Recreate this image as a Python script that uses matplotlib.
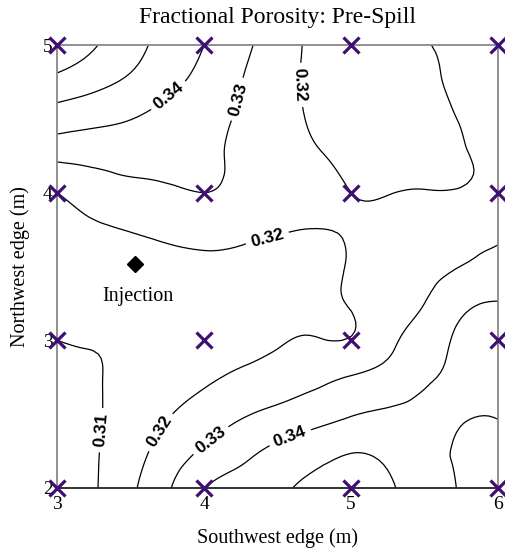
import numpy as np
import matplotlib
matplotlib.use("Agg")
import matplotlib.pyplot as plt
import matplotlib.tri as mtri

# Porosity mesh (0.25 m spacing) across the test cell
x_coords = [3.0, 3.25, 3.5, 3.75, 4.0, 4.25, 4.5, 4.75, 5.0, 5.25, 5.5, 5.75, 6.0]
y_coords = [2.0, 2.25, 2.5, 2.75, 3.0, 3.25, 3.5, 3.75, 4.0, 4.25, 4.5, 4.75, 5.0]
# rows follow y_coords (bottom to top), columns follow x_coords
porosity = [
    [0.2995, 0.3089, 0.3183, 0.3286, 0.3400, 0.3440, 0.3481, 0.3525, 0.3545, 0.3515, 0.3465, 0.3510, 0.3580],
    [0.3025, 0.3089, 0.3162, 0.3239, 0.3313, 0.3370, 0.3422, 0.3460, 0.3495, 0.3480, 0.3475, 0.3512, 0.3536],
    [0.3050, 0.3089, 0.3139, 0.3193, 0.3241, 0.3288, 0.3326, 0.3360, 0.3394, 0.3413, 0.3435, 0.3486, 0.3495],
    [0.3075, 0.3094, 0.3122, 0.3153, 0.3185, 0.3214, 0.3240, 0.3272, 0.3305, 0.3337, 0.3386, 0.3427, 0.3465],
    [0.3100, 0.3105, 0.3113, 0.3136, 0.3155, 0.3173, 0.3191, 0.3205, 0.3205, 0.3274, 0.3350, 0.3415, 0.3434],
    [0.3125, 0.3130, 0.3138, 0.3148, 0.3155, 0.3160, 0.3165, 0.3178, 0.3206, 0.3254, 0.3300, 0.3376, 0.3404],
    [0.3150, 0.3155, 0.3160, 0.3170, 0.3180, 0.3180, 0.3175, 0.3177, 0.3206, 0.3238, 0.3269, 0.3301, 0.3336],
    [0.3175, 0.3189, 0.3204, 0.3223, 0.3236, 0.3222, 0.3207, 0.3199, 0.3205, 0.3219, 0.3235, 0.3258, 0.3278],
    [0.3200, 0.3243, 0.3269, 0.3284, 0.3300, 0.3275, 0.3250, 0.3225, 0.3200, 0.3198, 0.3203, 0.3205, 0.3232],
    [0.3324, 0.3330, 0.3338, 0.3337, 0.3320, 0.3281, 0.3245, 0.3210, 0.3180, 0.3170, 0.3175, 0.3195, 0.3212],
    [0.3448, 0.3425, 0.3402, 0.3367, 0.3330, 0.3290, 0.3241, 0.3188, 0.3160, 0.3158, 0.3170, 0.3204, 0.3220],
    [0.3570, 0.3529, 0.3483, 0.3427, 0.3367, 0.3302, 0.3240, 0.3178, 0.3152, 0.3155, 0.3178, 0.3220, 0.3228],
    [0.3690, 0.3609, 0.3535, 0.3466, 0.3400, 0.3325, 0.3250, 0.3180, 0.3155, 0.3160, 0.3195, 0.3215, 0.3235],
]
levels = [0.31, 0.32, 0.33, 0.34, 0.35, 0.36]

# Sample wells (integer grid positions)
well_x = [3, 4, 5, 6]
well_y = [2, 3, 4, 5]

injection_xy = (3.53, 3.52)

# Contour label anchor points
label_points = [
    (3.78, 4.63), (4.24, 4.63), (4.67, 4.73), (4.44, 3.65),
    (3.31, 2.39), (3.70, 2.38), (4.04, 2.33), (4.59, 2.33),
]

serif = ["Liberation Serif", "DejaVu Serif"]

fig = plt.figure(figsize=(5.05, 5.52), dpi=100)
ax = fig.add_axes([57 / 505, 1 - 488 / 552, 441 / 505, 443 / 552])

X, Y = np.meshgrid(x_coords, y_coords)
Z = np.array(porosity)
tri = mtri.Triangulation(X.ravel(), Y.ravel())
interp = mtri.CubicTriInterpolator(tri, Z.ravel(), kind="min_E")
refiner = mtri.UniformTriRefiner(tri)
tri_f, z_f = refiner.refine_field(Z.ravel(), triinterpolator=interp, subdiv=3)

cs = ax.tricontour(tri_f, z_f, levels=levels, colors="black", linewidths=0.9)
texts = ax.clabel(cs, fmt="%.2f", manual=label_points, inline=True,
                  inline_spacing=3, fontsize=12.5)
for t in texts:
    t.set_fontfamily(["Liberation Sans", "DejaVu Sans"])
    t.set_fontweight("bold")
    if t.get_text() == "0.31":
        rot = t.get_rotation() % 360
        if rot > 180:
            t.set_rotation(rot - 180)

WX, WY = np.meshgrid(well_x, well_y)
ax.plot(WX.ravel(), WY.ravel(), "x", ms=11, mew=2.3, color="#3f0f72",
        clip_on=False, zorder=5)

ax.plot(*injection_xy, "D", ms=8, color="black", zorder=5)
ax.text(injection_xy[0] + 0.02, injection_xy[1] - 0.22, "Injection",
        ha="center", va="center", fontsize=14.5, family=serif)

ax.set_xlim(3, 6)
ax.set_ylim(2, 5)
ax.set_xticks(well_x)
ax.set_yticks(well_y)
ax.tick_params(length=0, labelsize=14)
ax.tick_params(axis="x", pad=6)
ax.tick_params(axis="y", pad=3)
for lab in ax.get_xticklabels() + ax.get_yticklabels():
    lab.set_fontfamily(serif)

for side in ["left", "top", "right"]:
    ax.spines[side].set_color("#888888")
    ax.spines[side].set_linewidth(1.3)
ax.spines["bottom"].set_color("#222222")
ax.spines["bottom"].set_linewidth(1.3)

ax.set_title("Fractional Porosity: Pre-Spill", fontsize=17, family=serif, pad=16)
ax.set_xlabel("Southwest edge (m)", fontsize=14.5, family=serif, labelpad=11)
ax.set_ylabel("Northwest edge (m)", fontsize=14.5, family=serif, labelpad=9)

fig.savefig("out.png", dpi=100)
